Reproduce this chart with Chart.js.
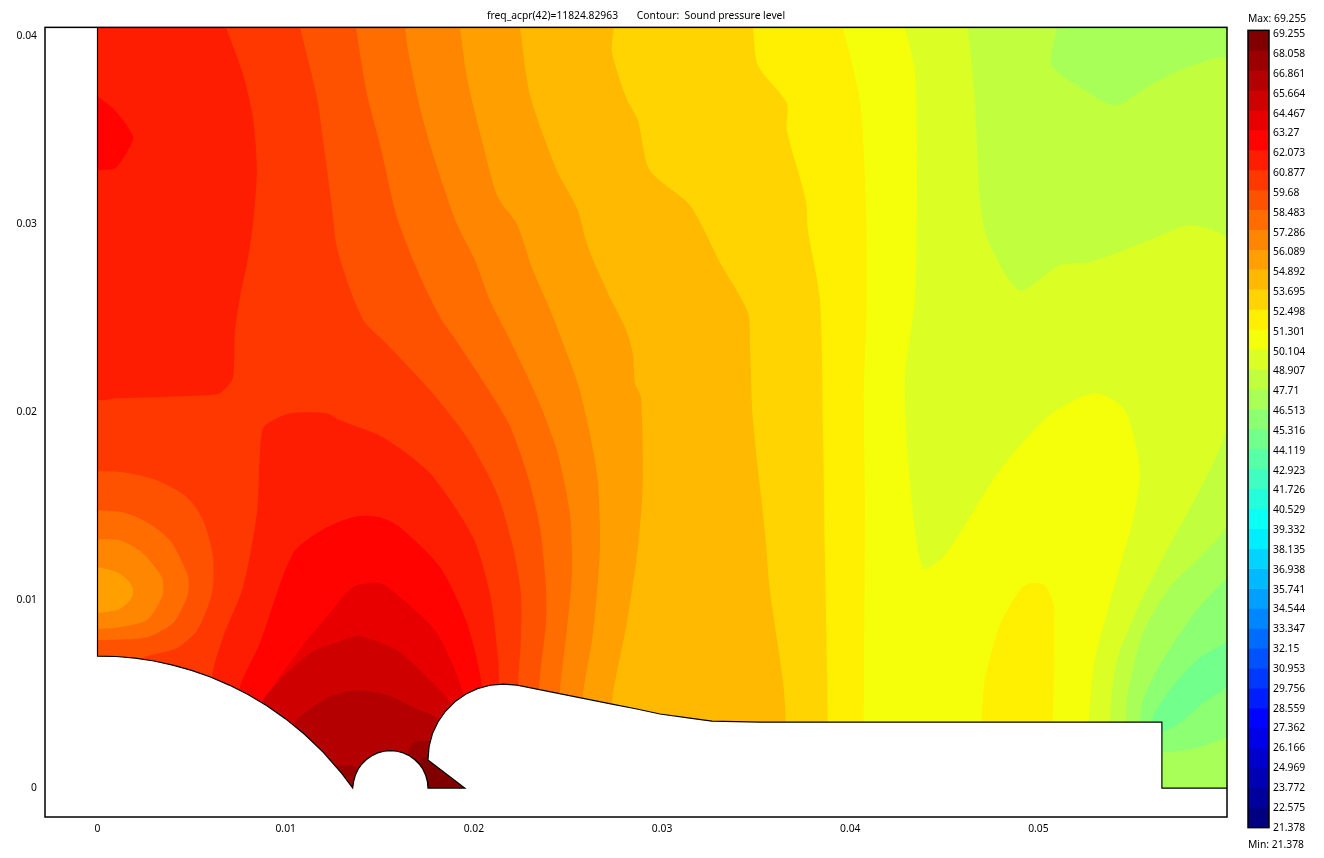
<!DOCTYPE html>
<html>
<head>
<meta charset="utf-8">
<title>Sound pressure level</title>
<script src="https://cdn.jsdelivr.net/npm/chart.js@4"></script>
<style>
  html, body { margin: 0; padding: 0; background: #fff; overflow: hidden; }
  canvas { position: absolute; top: 0; }
  #plot { left: 0; }
  #bar { left: 1247px; }
</style>
</head>
<body>
<canvas id="plot" width="1232" height="858"></canvas>
<canvas id="bar" width="77" height="858"></canvas>
<script>
// Geometry is in mm, the axis labels print metres
const xRange = [-2.79, 60.02];
const yRange = [-1.54, 40.48];
const xTicks = [0, 10, 20, 30, 40, 50];
const yTicks = [0, 10, 20, 30, 40];
const plotTitle = "freq_acpr(42)=11824.82963       Contour:  Sound pressure level";

// Colour bar levels, top to bottom
const levels = [69.255, 68.058, 66.861, 65.664, 64.467, 63.27, 62.073, 60.877, 59.68, 58.483,
  57.286, 56.089, 54.892, 53.695, 52.498, 51.301, 50.104, 48.907, 47.71, 46.513,
  45.316, 44.119, 42.923, 41.726, 40.529, 39.332, 38.135, 36.938, 35.741, 34.544,
  33.347, 32.15, 30.953, 29.756, 28.559, 27.362, 26.166, 24.969, 23.772, 22.575, 21.378];
const bandColors = ["#800000", "#9a0000", "#b40000", "#ce0000", "#e80000", "#ff0300", "#ff1d00", "#ff3800", "#ff5200", "#ff6c00",
  "#ff8600", "#ffa000", "#ffba00", "#ffd400", "#ffef00", "#f5ff0a", "#dbff24", "#c1ff3e", "#a7ff58", "#8cff72",
  "#72ff8c", "#58ffa7", "#3effc1", "#24ffdb", "#0afff5", "#00efff", "#00d4ff", "#00baff", "#00a0ff", "#0086ff",
  "#006cff", "#0052ff", "#0038ff", "#001dff", "#0003ff", "#0000e8", "#0000ce", "#0000b4", "#00009a", "#000080"];

// Contour regions, [x, y] in mm
const region47 = [[0, 40.48], [60.02, 40.48], [60.02, -0.64], [0, -0.64]];
const region46 = [[60.02, 11.22], [58.42, 9.47], [56.61, 6.81], [55.55, 4.68], [55.39, 3.51], [55.39, 3.08], [55.92, 1.91], [56.82, 1.91], [58.42, 2.13], [60.02, 2.71]];
const region45 = [[60.02, 7.77], [58.42, 6.81], [56.98, 5.21], [56.08, 3.78], [56.19, 3.08], [56.61, 2.98], [57.51, 3.46], [58.74, 4.52], [60.02, 5.37]];
const region48 = [[50.98, 40.48], [50.71, 38.46], [52.47, 37.13], [54.06, 36.33], [55.92, 37.39], [57.78, 38.30], [60.02, 38.72], [60.02, 14.15], [58.42, 12.13], [56.98, 10.69], [55.55, 8.24], [54.75, 5.05], [54.64, 3.51], [54.64, -0.64], [0, -0.64], [0, 40.48]];
const region49 = [[46.25, 40.48], [46.62, 36.59], [46.89, 31.28], [47.31, 29.15], [49.01, 26.49], [51.14, 27.82], [52.73, 27.98], [55.92, 29.15], [58.04, 29.95], [60.02, 29.15], [60.02, 19.31], [56.56, 12.13], [55.39, 9.84], [54.17, 6.81], [53.79, 3.51], [53.79, -0.64], [0, -0.64], [0, 40.48]];
const region50 = [[42.90, 40.48], [43.43, 38.19], [43.54, 32.87], [43.43, 25.96], [42.90, 21.70], [43.17, 16.38], [43.86, 11.70], [45.03, 12.39], [47.95, 16.91], [50.61, 19.84], [53.00, 21.01], [54.59, 20.11], [55.39, 16.91], [55.02, 14.25], [54.43, 12.13], [53.79, 9.84], [53.00, 6.81], [52.68, 3.51], [52.68, -0.64], [0, -0.64], [0, 40.48]];
const region51 = [[39.61, 40.48], [40.51, 36.59], [40.83, 31.28], [40.88, 25.96], [40.72, 20.64], [40.78, 15.32], [40.72, 3.51], [40.72, -0.64], [0, -0.64], [0, 40.48]];
const island51 = [[46.94, 3.08], [47.15, 5.74], [47.95, 8.67], [49.01, 10.53], [49.54, 10.90], [50.34, 10.80], [50.82, 9.63], [50.77, 3.08]];
const region52 = [[34.83, 40.48], [35.09, 38.46], [36.63, 36.44], [36.63, 35.00], [37.64, 31.28], [37.75, 29.68], [38.39, 25.96], [38.55, 19.04], [38.65, 12.66], [38.81, 3.51], [38.81, -0.64], [0, -0.64], [0, 40.48]];
const region54 = [[27.44, 40.48], [27.34, 39.15], [28.13, 36.65], [28.72, 35.53], [29.35, 32.87], [31.48, 31.01], [33.07, 27.98], [34.56, 25.32], [34.67, 23.56], [34.83, 19.57], [35.46, 13.72], [35.73, 10.53], [36.42, 5.74], [36.58, 3.51], [36.58, -0.64], [0, -0.64], [0, 40.48]];
const region55 = [[22.45, 40.48], [22.98, 36.91], [24.41, 32.87], [25.53, 30.74], [26.01, 28.94], [27.23, 26.12], [28.03, 24.52], [28.45, 23.14], [28.56, 21.54], [28.88, 20.80], [28.98, 16.22], [28.72, 12.82], [28.13, 8.78], [27.34, 4.57], [27.23, -0.64], [0, -0.64], [0, 40.48]];
const region56 = [[19.26, 40.48], [19.63, 37.82], [20.48, 34.25], [21.28, 31.44], [22.29, 30.00], [23.08, 27.71], [23.93, 25.74], [24.68, 23.83], [25.63, 21.17], [26.54, 16.75], [26.70, 12.82], [26.33, 8.24], [25.79, 4.84], [25.63, -0.64], [0, -0.64], [0, 40.48]];
const region57 = [[16.34, 40.48], [16.50, 39.25], [17.13, 36.22], [17.83, 33.72], [19.10, 30.00], [20.06, 28.08], [20.85, 25.96], [21.92, 23.83], [23.35, 20.80], [24.41, 17.98], [25.10, 14.63], [25.21, 11.44], [24.94, 8.40], [24.57, 5.05], [24.47, -0.64], [0, -0.64], [0, 40.48]];
const region58 = [[13.73, 40.48], [14.32, 36.91], [15.01, 34.25], [15.91, 30.37], [16.71, 28.24], [17.40, 26.65], [18.30, 24.89], [19.05, 23.83], [21.76, 19.57], [22.82, 16.75], [23.51, 13.88], [23.83, 10.69], [23.83, 8.78], [23.46, 5.32], [23.35, -0.64], [0, -0.64], [0, 40.48]];
const region60 = [[10.76, 40.48], [11.66, 36.75], [12.09, 33.72], [12.46, 30.90], [12.72, 28.78], [13.52, 26.28], [14.21, 24.79], [15.38, 23.62], [17.67, 21.17], [19.63, 18.67], [21.23, 15.69], [22.08, 12.82], [22.50, 10.37], [22.50, 7.87], [22.34, 5.48], [22.23, -0.64], [0, -0.64], [0, 40.48]];
const upper61 = [[6.83, 40.48], [7.73, 37.98], [8.26, 35.69], [8.47, 32.87], [8.26, 30.00], [7.94, 27.87], [7.57, 26.12], [7.31, 24.36], [7.25, 22.39], [7.15, 21.70], [6.51, 21.01], [5.82, 20.90], [3.16, 20.80], [1, 20.74], [0, 20.74], [0, 40.48]];
const pocket63 = [[0, 36.81], [0.93, 36.06], [1.89, 34.63], [1.46, 33.67], [0.93, 32.98], [0, 32.87]];
const lobe58 = [[0, 16.86], [1.35, 16.81], [3.16, 16.38], [4.76, 15.48], [5.61, 14.25], [6.14, 12.29], [6.08, 10.37], [5.29, 8.40], [4.22, 7.45], [2.63, 7.02], [1.73, 6.70], [0, 6.70]];
const lobe57 = [[0, 14.79], [1.35, 14.68], [2.63, 14.15], [3.85, 13.19], [4.76, 11.44], [4.85, 10.80], [4.76, 10.16], [4.01, 8.78], [2.63, 8.03], [0, 7.87]];
const lobe56 = [[0, 13.24], [1.20, 13.19], [2.42, 12.50], [3.43, 11.22], [3.50, 10.70], [3.43, 10.16], [2.63, 8.94], [1.20, 8.56], [0, 8.46]];
const lobe55 = [[0, 11.76], [1.04, 11.49], [1.46, 11.20], [1.78, 10.85], [1.89, 10.50], [1.80, 10.10], [1.45, 9.72], [1.04, 9.47], [0, 9.31]];
const lower61 = [[6.08, -0.11], [6.08, 5.90], [6.67, 8.03], [7.73, 10.69], [8.47, 14.63], [8.63, 17.82], [8.79, 19.15], [9.32, 19.57], [10.23, 19.95], [12.19, 19.95], [12.88, 19.57], [15.17, 18.67], [17.67, 16.75], [19.95, 13.35], [20.85, 10.37], [21.28, 6.97], [21.33, 5.58], [21.33, -0.11]];
const lower63 = [[7.15, -0.11], [7.57, 5.32], [8.63, 7.71], [10.39, 12.50], [12.19, 13.88], [13.79, 14.47], [15.01, 14.41], [16.07, 13.88], [18.20, 11.76], [19.63, 8.78], [20.43, 5.37], [20.43, -0.11]];
const lower64 = [[8.74, -0.11], [9.01, 4.68], [10.60, 7.18], [12.35, 9.31], [13.57, 10.69], [15.01, 10.90], [16.07, 10.16], [18.04, 8.24], [19.52, 4.68], [19.52, -0.11]];
const lower65 = [[8.63, -0.11], [8.63, 4.36], [11.29, 7.18], [13.04, 7.87], [13.95, 8.08], [15.91, 7.34], [17.51, 5.90], [18.83, 4.31], [18.83, -0.11]];
const lower66 = [[10.23, -0.11], [10.49, 3.46], [11.45, 4.31], [12.51, 4.95], [13.95, 5.21], [15.38, 4.95], [16.76, 4.31], [18.09, 3.62], [18.46, -0.11]];
const patch67a = [[12.35, 1.06], [13.04, 1.22], [13.79, 1.06], [13.79, -0.11], [12.35, -0.11]];
const patch67b = [[16.44, -0.11], [16.44, 1.76], [16.76, 2.39], [17.29, 2.50], [17.77, 2.45], [17.77, -0.11]];
const corner68 = [[17.03, 1.38], [17.56, 1.65], [19.79, -0.11], [17.03, -0.11]];

// Boundary of the computed domain
const domainEdge = [[0, 40.48], [0, 7.02], [1, 7.00], [2, 6.91], [3, 6.76], [4, 6.54], [5, 6.26], [6, 5.91], [7, 5.48], [8, 4.98], [9, 4.38], [10, 3.68], [11, 2.86], [12, 1.90], [13, 0.75], [13.56, 0],
  [13.61, 0.35], [13.70, 0.68], [13.85, 1.00], [14.05, 1.28], [14.29, 1.52], [14.58, 1.72], [14.89, 1.87], [15.22, 1.96], [15.57, 1.99], [15.92, 1.96], [16.25, 1.87], [16.57, 1.72], [16.85, 1.52], [17.09, 1.28], [17.29, 1.00], [17.44, 0.68], [17.53, 0.35], [17.56, 0],
  [19.52, 0], [17.56, 1.49],
  [17.62, 2.22], [17.80, 2.90], [18.10, 3.53], [18.50, 4.10], [18.99, 4.59], [19.56, 4.99], [20.19, 5.29], [20.87, 5.47], [21.56, 5.53],
  [22.29, 5.48], [27.34, 4.47], [28.60, 4.22], [29.89, 3.94], [31.48, 3.72], [32.65, 3.56], [35.20, 3.51],
  [56.56, 3.51], [56.56, 0], [60.02, 0]];
const outsideCorners = [[60.02, -1.54], [-2.79, -1.54], [-2.79, 40.48]];

// Painted in this order, each one over the previous; second value is the bar colour index
const layers = [
  [region47, 18], [region46, 19], [region45, 20], [region48, 17], [region49, 16], [region50, 15],
  [region51, 14], [island51, 14], [region52, 13], [region54, 12], [region55, 11], [region56, 10],
  [region57, 9], [region58, 8], [region60, 7], [upper61, 6], [pocket63, 5], [lobe58, 8], [lobe57, 9],
  [lobe56, 10], [lobe55, 11], [lower61, 6], [lower63, 5], [lower64, 4], [lower65, 3], [lower66, 2],
  [patch67a, 1], [patch67b, 1], [corner68, 0]
];

const uiFont = { family: "'Noto Sans', sans-serif", size: 10.3 };
const xy = pts => pts.map(p => ({ x: p[0], y: p[1] }));

// Black box round the chart area
const frame = {
  id: "frame",
  afterDraw(chart) {
    const a = chart.chartArea, ctx = chart.ctx;
    ctx.save();
    ctx.strokeStyle = "#000";
    ctx.lineWidth = 1.5;
    ctx.strokeRect(a.left, a.top, a.right - a.left, a.bottom - a.top);
    ctx.restore();
  }
};

const datasets = layers.map((l, i) => ({
  data: xy(l[0]),
  showLine: true,
  fill: "shape",
  backgroundColor: bandColors[l[1]],
  borderWidth: 0,
  pointRadius: 0,
  tension: i === 0 ? 0 : 0.25,
  order: 100 - i
}));
// white outside of the domain, then its outline
datasets.push({
  data: xy(domainEdge.concat(outsideCorners)),
  showLine: true, fill: "shape", backgroundColor: "#fff",
  borderWidth: 0, pointRadius: 0, tension: 0, order: 2
});
datasets.push({
  data: xy(domainEdge),
  showLine: true, fill: false, borderColor: "#000",
  borderWidth: 1.2, pointRadius: 0, tension: 0, order: 1
});

new Chart(document.getElementById("plot"), {
  type: "scatter",
  data: { datasets },
  plugins: [frame],
  options: {
    responsive: false,
    animation: false,
    layout: { padding: { right: 5 } },
    plugins: {
      legend: { display: false },
      tooltip: { enabled: false },
      title: {
        display: true, text: plotTitle, color: "#000", fullSize: false,
        font: { ...uiFont, weight: "normal", lineHeight: 1.2 },
        padding: { top: 10, bottom: 5 }
      }
    },
    scales: {
      x: {
        type: "linear", min: xRange[0], max: xRange[1],
        grid: { display: false, drawTicks: false }, border: { display: false },
        afterBuildTicks: s => { s.ticks = xTicks.map(v => ({ value: v })); },
        afterFit: s => { s.height = 41; },
        ticks: { color: "#000", font: uiFont, padding: 6, maxRotation: 0, autoSkip: false, callback: v => String(v / 1000) }
      },
      y: {
        type: "linear", min: yRange[0], max: yRange[1],
        grid: { display: false, drawTicks: false }, border: { display: false },
        afterBuildTicks: s => { s.ticks = yTicks.map(v => ({ value: v })); },
        afterFit: s => { s.width = 45; },
        ticks: { color: "#000", font: uiFont, padding: 8, autoSkip: false, callback: v => String(v / 1000) }
      }
    }
  }
});

// Colour bar, labels sit on their own axis because their spacing is a bit tighter than the bands
new Chart(document.getElementById("bar"), {
  type: "bar",
  data: {
    labels: [""],
    datasets: bandColors.map((c, i) => ({
      data: [[levels[i + 1], levels[i]]],
      backgroundColor: c,
      grouped: false,
      barPercentage: 1,
      categoryPercentage: 1
    }))
  },
  plugins: [frame],
  options: {
    responsive: false,
    animation: false,
    layout: { padding: { left: 1 } },
    plugins: {
      legend: { display: false },
      tooltip: { enabled: false },
      title: {
        display: true, text: "Max: " + levels[0], color: "#000", align: "start",
        font: { ...uiFont, weight: "normal", lineHeight: 1.2 },
        padding: { top: 13, bottom: 5 }
      },
      subtitle: {
        display: true, position: "bottom", text: "Min: " + levels[levels.length - 1], color: "#000", align: "start",
        font: { ...uiFont, weight: "normal", lineHeight: 1.2 },
        padding: { top: 11, bottom: 7 }
      }
    },
    scales: {
      x: { display: false },
      y: { display: false, min: levels[levels.length - 1], max: levels[0] },
      labelsAxis: {
        position: "right",
        min: levels[levels.length - 1], max: 69.496,
        grid: { display: false, drawTicks: false }, border: { display: false },
        afterBuildTicks: s => { s.ticks = levels.map(v => ({ value: v })); },
        afterFit: s => { s.width = 55; },
        ticks: { color: "#000", font: uiFont, padding: 4, autoSkip: false, callback: v => String(v) }
      }
    }
  }
});
</script>
</body>
</html>
